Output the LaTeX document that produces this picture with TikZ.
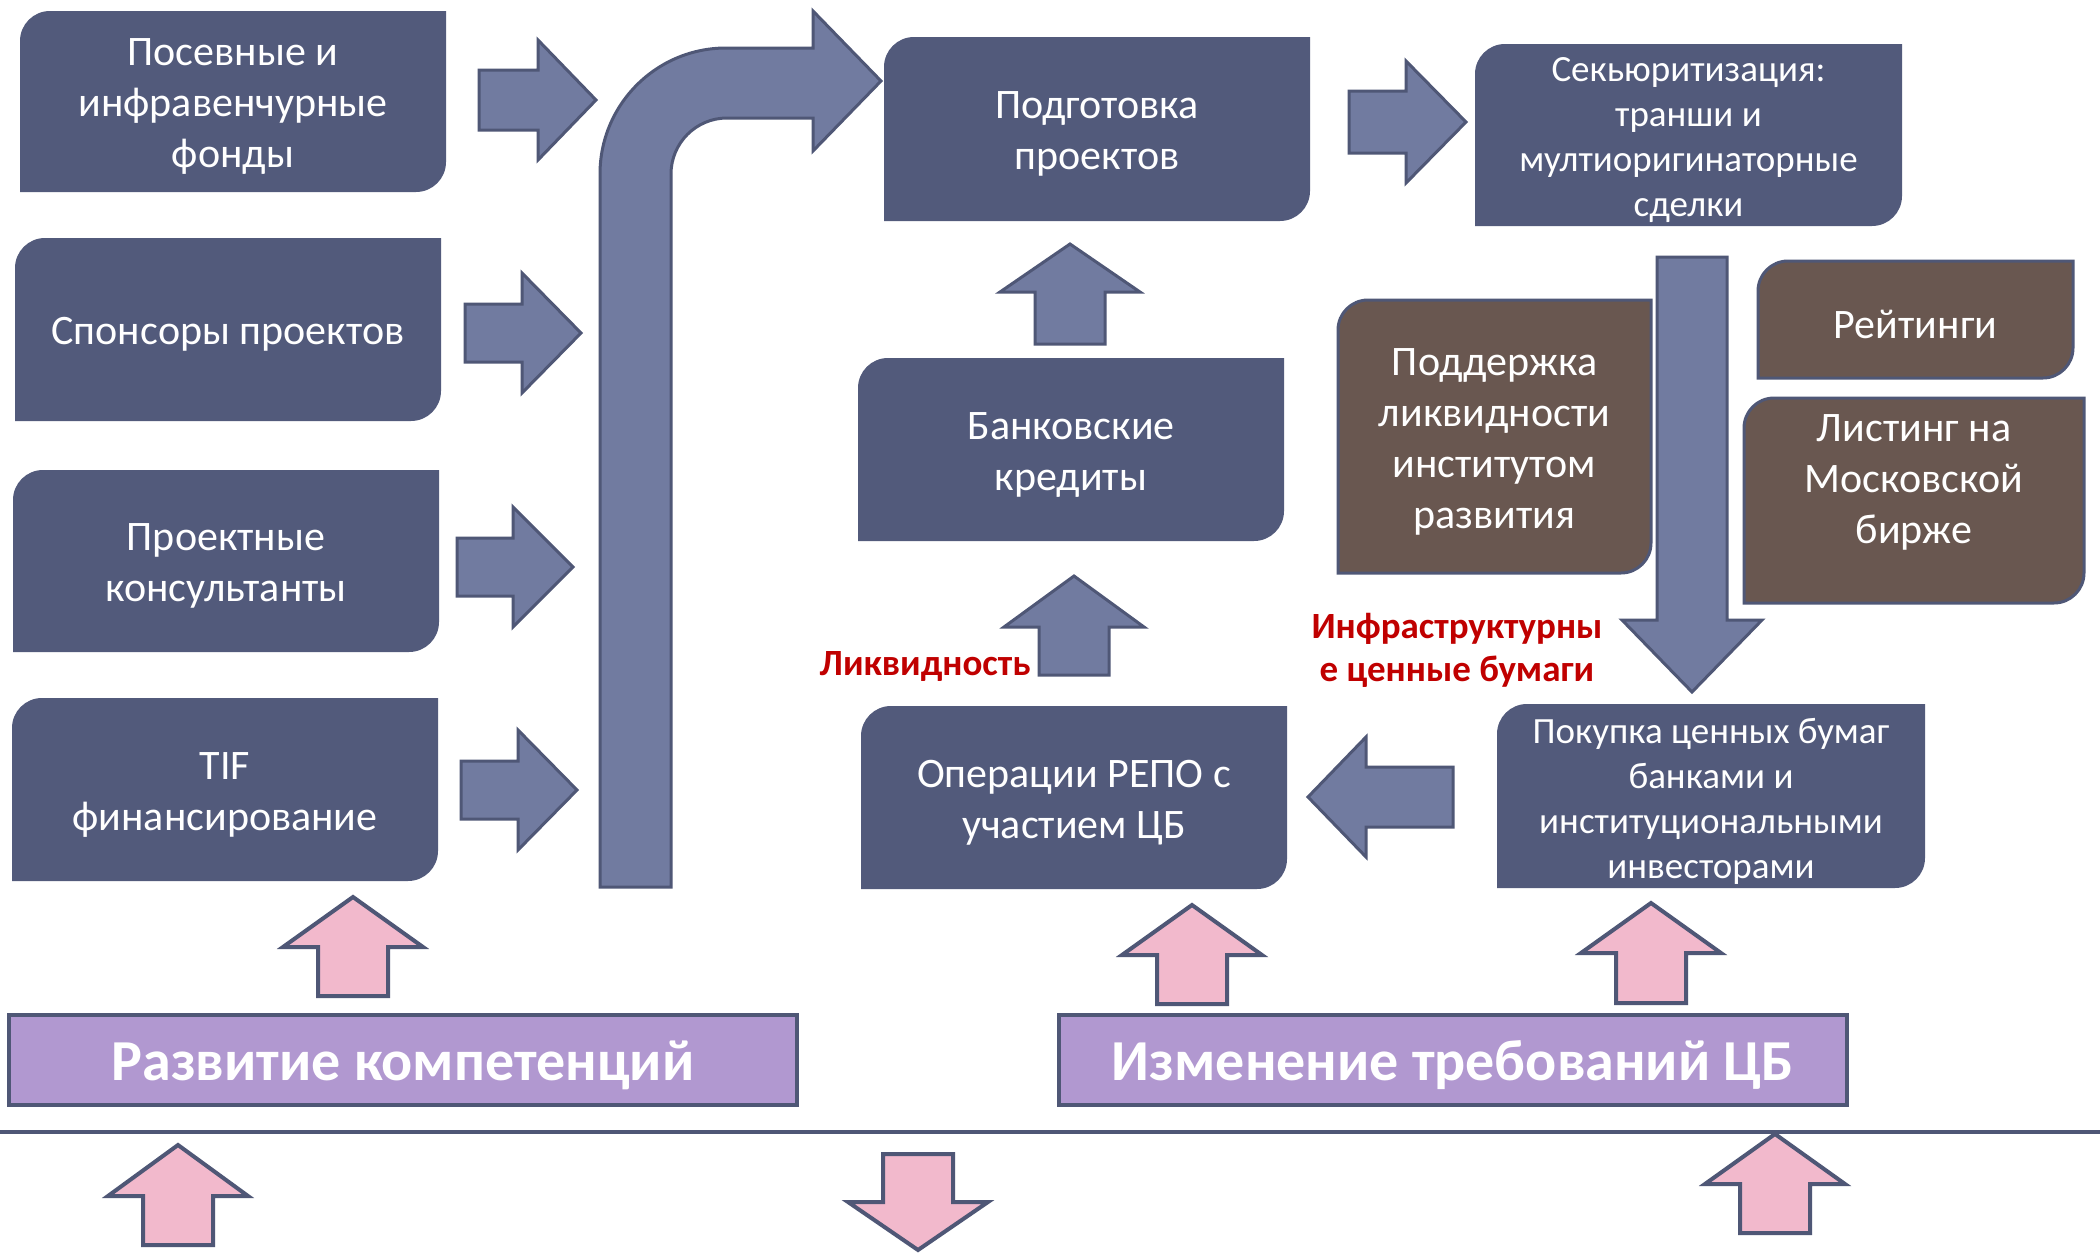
\documentclass[tikz,border=0pt]{standalone}
\usepackage{fontspec}
\setmainfont{Carlito}
\usetikzlibrary{calc}
\definecolor{boxblue}{HTML}{525A7B}
\definecolor{arrowblue}{HTML}{717BA0}
\definecolor{edgeblue}{HTML}{4F5776}
\definecolor{boxbrown}{HTML}{695750}
\definecolor{pinkfill}{HTML}{F2B9CC}
\definecolor{purplefill}{HTML}{B198D0}
\definecolor{labelred}{HTML}{C00000}
\pgfdeclarelayer{background}
\pgfsetlayers{background,main}
% box node from pixel corners, plus its text node
\newcommand\mkbox[8]{%
  \pgfmathsetmacro\bw{(#4-#2)*0.5}\pgfmathsetmacro\bh{(#5-#3)*0.5}%
  \node[#6, minimum width=\bw pt, minimum height=\bh pt] (#1) at ({(#2+#4)/2},{(#3+#5)/2}) {};
  \node[#7] (#1-text) at ([yshift=-2.5pt]#1.center) {#8};}
% shape with rounded top-left and bottom-right corners
\newcommand\tlbr[2]{%
  \begin{pgfonlayer}{background}
  \path[#2] (#1.south west) -- ([yshift=-15pt]#1.north west)
    arc[start angle=180,end angle=90,radius=15pt] -- (#1.north east)
    -- ([yshift=15pt]#1.south east) arc[start angle=0,end angle=-90,radius=15pt] -- cycle;
  \end{pgfonlayer}}
\newcommand\harrow[7]{%
  \draw[#1] ({#2},{#5-#6}) -- ({#3},{#5-#6}) -- ({#3},{#5-#7}) -- ({#4},{#5})
    -- ({#3},{#5+#7}) -- ({#3},{#5+#6}) -- ({#2},{#5+#6}) -- cycle;}
\newcommand\varrow[7]{%
  \draw[#1] ({#5-#6},{#2}) -- ({#5-#6},{#3}) -- ({#5-#7},{#3}) -- ({#5},{#4})
    -- ({#5+#7},{#3}) -- ({#5+#6},{#3}) -- ({#5+#6},{#2}) -- cycle;}
\begin{document}
\begin{tikzpicture}[x=0.5pt,y=-0.5pt,
  plainbox/.style={rectangle, inner sep=0pt, outer sep=0pt},
  bandbox/.style={plainbox, fill=purplefill, draw=edgeblue, line width=2pt},
  boxtext/.style={text=white, align=center, inner sep=0pt, outer sep=0pt,
    font=\fontsize{21}{25.5}\selectfont},
  smalltext/.style={boxtext, font=\fontsize{18.5}{22.5}\selectfont},
  bandtext/.style={boxtext, font=\bfseries\fontsize{29}{34}\selectfont},
  redlabel/.style={text=labelred, align=center, inner sep=0pt,
    font=\bfseries\fontsize{18.5}{21.5}\selectfont},
  blueshape/.style={fill=boxblue},
  brownshape/.style={fill=boxbrown, draw=edgeblue, line width=1.5pt},
  bluearrow/.style={fill=arrowblue, draw=edgeblue, line width=1.5pt},
  pinkarrow/.style={fill=pinkfill, draw=edgeblue, line width=2pt}]
\useasboundingbox (0,0) rectangle (2100,1253);
\begin{pgfonlayer}{background}
\fill[white] (0,0) rectangle (2100,1253);
\end{pgfonlayer}

% boxes
\mkbox{seed}{20}{11}{446}{192}{plainbox}{boxtext}{Посевные и\\инфравенчурные\\фонды}
\mkbox{sponsors}{15}{238}{441}{421}{plainbox}{boxtext}{Спонсоры проектов}
\mkbox{consult}{13}{470}{439}{652}{plainbox}{boxtext}{Проектные\\консультанты}
\mkbox{tif}{12}{698}{438}{881}{plainbox}{boxtext}{TIF\\финансирование}
\mkbox{prep}{884}{37}{1310}{221}{plainbox}{boxtext}{Подготовка\\проектов}
\mkbox{secur}{1475}{44}{1902}{226}{plainbox}{smalltext}{Секьюритизация:\\транши и\\мултиоригинаторные\\сделки}
\mkbox{loans}{858}{358}{1284}{541}{plainbox}{boxtext}{Банковские\\кредиты}
\mkbox{repo}{861}{706}{1287}{889}{plainbox}{boxtext}{Операции РЕПО с\\участием ЦБ}
\mkbox{purchase}{1497}{704}{1925}{888}{plainbox}{smalltext}{Покупка ценных бумаг\\банками и\\институциональными\\инвесторами}
\mkbox{support}{1338}{300}{1651}{573}{plainbox}{boxtext}{Поддержка\\ликвидности\\институтом\\развития}
\mkbox{ratings}{1758}{261}{2073}{378}{plainbox}{boxtext}{Рейтинги}
\mkbox{listing}{1744}{398}{2084}{603}{plainbox}{boxtext}{}
\node[boxtext] (listingtext) at (1914,482) {Листинг на\\Московской\\бирже};

\foreach \n in {seed,sponsors,consult,tif,prep,secur,loans,repo,purchase}{\tlbr{\n}{blueshape}}
\foreach \n in {support,ratings,listing}{\tlbr{\n}{brownshape}}

\mkbox{competence}{9}{1015}{797}{1105}{bandbox}{bandtext}{Развитие компетенций}
\mkbox{cbreq}{1059}{1015}{1847}{1105}{bandbox}{bandtext}{Изменение требований ЦБ}

% red labels
\node[redlabel, anchor=east] (liquidity) at (1031,666) {Ликвидность};
\node[redlabel] (infra) at (1457,650) {Инфраструктурны\\е ценные бумаги};

% right arrows from left boxes
\harrow{bluearrow}{479}{538}{596}{100}{30}{60}
\harrow{bluearrow}{465}{522}{581}{333}{29}{60}
\harrow{bluearrow}{457}{513}{573}{567}{29}{60}
\harrow{bluearrow}{461}{518}{577}{790}{29}{60}
% preparation -> securitization
\harrow{bluearrow}{1349}{1406}{1466}{122}{31}{61}
% purchase -> repo
\harrow{bluearrow}{1453}{1366}{1308}{797}{30}{60}
% vertical blue arrows
\varrow{bluearrow}{344}{292}{244}{1070}{35}{70}
\varrow{bluearrow}{675}{627}{576}{1074}{35}{70}
\varrow{bluearrow}{257}{620}{692}{1692}{35}{70}

% big bent arrow
\draw[bluearrow] (600,887) -- (600,174) arc[start angle=180,end angle=90,radius=63pt]
  -- (813,48) -- (813,11) -- (881,81) -- (813,151) -- (813,118) -- (727,118)
  arc[start angle=90,end angle=180,radius=28pt] -- (671,887) -- cycle;

% pink arrows
\varrow{pinkarrow}{996}{947}{897}{353}{35}{70}
\varrow{pinkarrow}{1004}{955}{905}{1192}{35}{70}
\varrow{pinkarrow}{1003}{953}{903}{1651}{35}{70}
\varrow{pinkarrow}{1245}{1196}{1145}{178}{35}{70}
\varrow{pinkarrow}{1154}{1202}{1250}{918}{35}{70}
\varrow{pinkarrow}{1233}{1184}{1134}{1775}{35}{70}

% separator line
\coordinate (lineL) at (0,1132);
\coordinate (lineR) at (2100,1132);
\draw[edgeblue, line width=2pt] (lineL) -- (lineR);
\end{tikzpicture}
\end{document}
